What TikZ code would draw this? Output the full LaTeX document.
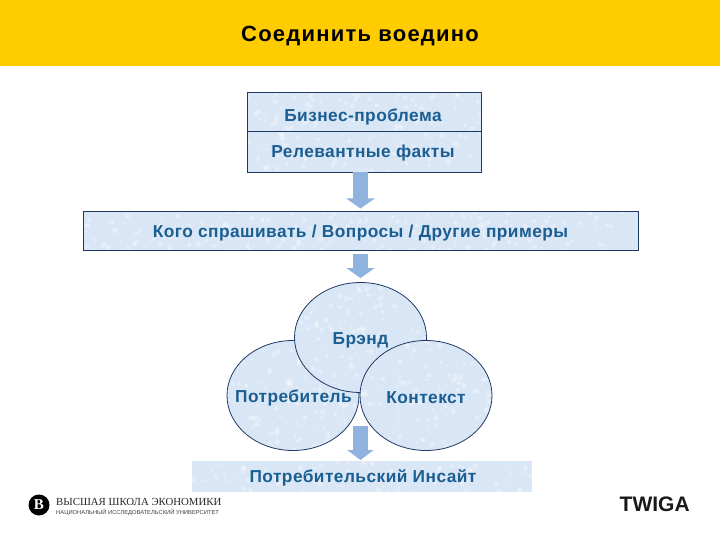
\documentclass[tikz,border=0pt]{standalone}
\usepackage{fontspec}
\setmainfont{Liberation Sans}
\newfontfamily\labelface[LetterSpace=2.6]{Liberation Sans}
\newfontfamily\titleface[LetterSpace=5.5]{Liberation Sans}
\newfontfamily\sealface{Liberation Serif}
\usetikzlibrary{arrows.meta,shapes.geometric,calc}
\definecolor{banner}{HTML}{FFCC00}
\definecolor{boxfill}{HTML}{D9E6F5}
\definecolor{boxline}{HTML}{1F3864}
\definecolor{labelblue}{HTML}{1B5E92}
\definecolor{arrowblue}{HTML}{8FB2DF}
\newcommand{\mottle}[1]{%
  \foreach \i in {1,...,#1}{%
    \pgfmathsetmacro{\ma}{rnd}\pgfmathsetmacro{\mb}{rnd}\pgfmathsetmacro{\mr}{0.8+2*rnd}%
    \coordinate (mx) at ($(path picture bounding box.north west)!\ma!(path picture bounding box.north east)$);
    \coordinate (my) at ($(path picture bounding box.north west)!\mb!(path picture bounding box.south west)$);
    \fill[white,opacity=0.3] (mx |- my) circle[radius=\mr pt];
  }}
\tikzset{
  x=1pt,y=-1pt,
  panel/.style={draw=boxline,line width=0.9pt,fill=boxfill,minimum width=#1,inner sep=0pt},
  ringshape/.style={ellipse,draw=boxline,line width=0.8pt,fill=boxfill,minimum width=132pt,minimum height=110pt,inner sep=0pt},
  label/.style={font=\labelface\bfseries\fontsize{17.3}{19}\selectfont,text=labelblue,inner sep=0pt},
  flow/.style={line width=14.5pt,color=arrowblue,-{Triangle[width=#1,length=10pt]}},
}
\begin{document}
\begin{tikzpicture}
\pgfmathsetseed{7}
\useasboundingbox (0,0) rectangle (720,540);
\fill[white] (0,0) rectangle (720,540);
\node[fill=banner,minimum width=720pt,minimum height=66pt,inner sep=0pt] (head) at (360,33) {};
\node[font=\titleface\bfseries\fontsize{22}{24}\selectfont,inner sep=0pt] (title) at (360,36) {Соединить воедино};

\node[panel=234pt,minimum height=39pt,path picture={\mottle{110}}] (prob) at (364,111.5) {};
\node[panel=234pt,minimum height=41pt,path picture={\mottle{110}}] (facts) at (364,151.5) {};
\node[panel=555pt,minimum height=39pt,path picture={\mottle{260}}] (mid) at (360.5,230.5) {};
\node[fill=boxfill,minimum width=340pt,minimum height=31pt,inner sep=0pt,path picture={\mottle{130}}] (ins) at (362,476.5) {};

\node[ringshape,path picture={\mottle{170}}] (cons) at (293,395.5) {};
\node[ringshape,path picture={\mottle{170}}] (brand) at (360.5,337.5) {};
\node[ringshape,path picture={\mottle{170}}] (ctx) at (426,395.5) {};

\node[label] (t1) at (363,116.5) {Бизнес-проблема};
\node[label] (t2) at (363,153.5) {Релевантные факты};
\node[label] (t3) at (360.5,233.5) {Кого спрашивать / Вопросы / Другие примеры};
\node[label] (t4) at (360.5,340) {Брэнд};
\node[label] (t5) at (293.5,397.5) {Потребитель};
\node[label] (t6) at (426,397.5) {Контекст};
\node[label] (t7) at (363,478) {Потребительский Инсайт};

\coordinate (a1) at (360.5,172);
\coordinate (a1e) at (360.5,208.5);
\draw[flow=28pt] (a1) -- (a1e);
\coordinate (a2) at (360.5,254);
\coordinate (a2e) at (360.5,278);
\draw[flow=28pt] (a2) -- (a2e);
\coordinate (a3) at (360.5,426);
\coordinate (a3e) at (360.5,460);
\draw[flow=26pt] (a3) -- (a3e);

\node[circle,fill=black,minimum size=21pt,inner sep=0pt,text=white,font=\sealface\bfseries\fontsize{15}{15}\selectfont] (seal) at (39,505) {В};
\node[anchor=west,inner sep=0pt,font=\sealface\fontsize{10.8}{12}\selectfont,text=black!85] (hse) at (56,502) {ВЫСШАЯ ШКОЛА ЭКОНОМИКИ};
\node[anchor=west,inner sep=0pt,font=\fontsize{5.8}{7}\selectfont,text=black!75] (hse2) at (56,512) {НАЦИОНАЛЬНЫЙ ИССЛЕДОВАТЕЛЬСКИЙ УНИВЕРСИТЕТ};
\node[anchor=west,inner sep=0pt,font=\bfseries\fontsize{21}{21}\selectfont,text=black!90] (twiga) at (619.5,504.5) {TWIGA};
\end{tikzpicture}
\end{document}
